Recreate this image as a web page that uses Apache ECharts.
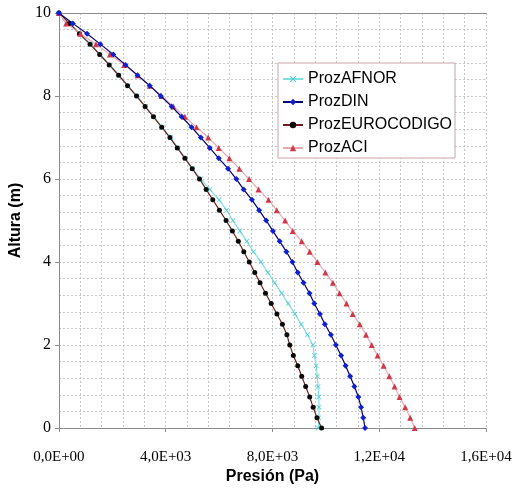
<!DOCTYPE html>
<html>
<head>
<meta charset="utf-8">
<script src="https://cdn.jsdelivr.net/npm/echarts@6/dist/echarts.min.js"></script>
<style>
html,body{margin:0;padding:0;background:#fff;}
#chart{width:521px;height:490px;}
</style>
</head>
<body>
<div id="chart"></div>
<script>
// Heights (m)
var heights = [10, 9.75, 9.5, 9.25, 9, 8.75, 8.5, 8.25, 8, 7.75, 7.5, 7.25, 7, 6.75, 6.5, 6.25, 6, 5.75, 5.5, 5.25, 5, 4.75, 4.5, 4.25, 4, 3.75, 3.5, 3.25, 3, 2.75, 2.5, 2.25, 2, 1.75, 1.5, 1.25, 1, 0.75, 0.5, 0.25, 0];

// Pressures (Pa)
var prozAFNOR = [0, 405, 780, 1180, 1545, 1905, 2255, 2590, 2925, 3245, 3560, 3870, 4180, 4455, 4740, 5010, 5310, 5650, 6000, 6280, 6520, 6780, 7040, 7290, 7570, 7830, 8080, 8340, 8590, 8840, 9080, 9310, 9515, 9570, 9640, 9680, 9710, 9735, 9745, 9740, 9720];
var prozDIN = [0, 522, 1055, 1551, 2036, 2497, 2945, 3404, 3814, 4224, 4597, 4970, 5316, 5652, 5988, 6338, 6647, 6920, 7232, 7500, 7766, 8015, 8269, 8522, 8746, 8947, 9163, 9387, 9566, 9778, 9965, 10189, 10375, 10570, 10740, 10910, 11070, 11220, 11320, 11400, 11470];
var prozEUROCODIGO = [0, 395, 768, 1167, 1528, 1886, 2237, 2572, 2908, 3228, 3542, 3851, 4160, 4436, 4720, 4995, 5268, 5517, 5764, 6013, 6263, 6498, 6722, 6927, 7132, 7337, 7534, 7739, 7952, 8168, 8373, 8541, 8649, 8783, 8947, 9096, 9245, 9395, 9525, 9667, 9842];
var prozACI = [0, 272, 805, 1391, 1912, 2446, 2945, 3404, 3840, 4287, 4720, 5156, 5592, 5987, 6386, 6759, 7124, 7478, 7851, 8160, 8474, 8761, 9096, 9394, 9685, 9983, 10263, 10513, 10774, 11009, 11270, 11505, 11717, 11941, 12164, 12377, 12574, 12761, 12973, 13160, 13331];

var seriesNames = ['ProzAFNOR', 'ProzDIN', 'ProzEUROCODIGO', 'ProzACI'];
var xTicks = [0, 4000, 8000, 12000, 16000];
var yTicks = [0, 2, 4, 6, 8, 10];

function pairs(xs) {
  return xs.map(function (v, i) { return [v, heights[i]]; });
}
function sci(v) {
  if (v === 0) return '0,0E+00';
  var e = Math.floor(Math.log10(Math.abs(v)) + 1e-9);
  var m = (v / Math.pow(10, e)).toFixed(1).replace('.', ',');
  return m + 'E+' + (e < 10 ? '0' + e : e);
}

var xSymbol = 'path://M0,1 L1,0 L5,4 L9,0 L10,1 L6,5 L10,9 L9,10 L5,6 L1,10 L0,9 L4,5 Z';

var chart = echarts.init(document.getElementById('chart'), null, {renderer: 'canvas'});
var gridStyle = {color: '#c4c4c4', width: 1, type: [2, 2]};
chart.setOption({
  animation: false,
  backgroundColor: '#ffffff',
  grid: {left: 58, right: 35, top: 13, bottom: 56, containLabel: false},
  legend: {
    orient: 'vertical',
    left: 278,
    top: 63,
    padding: [8, 3, 2, 4],
    itemGap: 7,
    itemWidth: 20,
    itemHeight: 8,
    backgroundColor: '#ffffff',
    borderColor: '#c8a4aa',
    borderWidth: 1,
    borderRadius: 0,
    textStyle: {fontFamily: 'Liberation Sans, Arial, sans-serif', fontSize: 16, color: '#000'},
    data: seriesNames
  },
  xAxis: [{
    type: 'value', min: 0, max: 16000, interval: 4000,
    name: 'Presión (Pa)', nameLocation: 'middle', nameGap: 37,
    nameTextStyle: {fontFamily: 'Liberation Sans, Arial, sans-serif', fontSize: 16, fontWeight: 'bold', color: '#000'},
    axisLine: {show: true, onZero: false, lineStyle: {color: '#8c8c8c', width: 1}},
    axisTick: {show: true, length: 4, lineStyle: {color: '#8c8c8c'}},
    axisLabel: {
      margin: 21,
      fontFamily: 'Liberation Serif, Times New Roman, serif', fontSize: 15, color: '#000',
      formatter: function (v) { return xTicks.indexOf(v) >= 0 ? sci(v) : ''; }
    },
    splitLine: {show: true, lineStyle: gridStyle},
    minorTick: {show: false, splitNumber: 5},
    minorSplitLine: {show: true, lineStyle: gridStyle}
  }, {
    type: 'value', min: 0, max: 16000, position: 'top',
    axisLine: {show: true, onZero: false, lineStyle: {color: '#8c8c8c', width: 1}},
    axisTick: {show: false}, axisLabel: {show: false}, splitLine: {show: false}
  }],
  yAxis: {
    type: 'value', min: 0, max: 10, interval: 2,
    name: 'Altura (m)', nameLocation: 'middle', nameGap: 27, nameRotate: 90,
    nameTextStyle: {fontFamily: 'Liberation Sans, Arial, sans-serif', fontSize: 16, fontWeight: 'bold', color: '#000'},
    axisLine: {show: true, onZero: false, lineStyle: {color: '#8c8c8c', width: 1}},
    axisTick: {show: true, length: 4, lineStyle: {color: '#8c8c8c'}},
    axisLabel: {
      margin: 8,
      fontFamily: 'Liberation Serif, Times New Roman, serif', fontSize: 16, color: '#000',
      formatter: function (v) { return yTicks.indexOf(v) >= 0 ? String(v) : ''; }
    },
    splitLine: {show: true, lineStyle: gridStyle},
    minorTick: {show: false, splitNumber: 5},
    minorSplitLine: {show: true, lineStyle: gridStyle}
  },
  series: [
    {
      name: seriesNames[0], type: 'line', data: pairs(prozAFNOR),
      symbol: xSymbol, symbolSize: 5, showAllSymbol: true,
      lineStyle: {color: '#7fe0e0', width: 1.2},
      itemStyle: {color: '#4cc8cc'}, z: 2
    },
    {
      name: seriesNames[1], type: 'line', data: pairs(prozDIN),
      symbol: 'diamond', symbolSize: 6, showAllSymbol: true,
      lineStyle: {color: '#000070', width: 1.2},
      itemStyle: {color: '#1020d0'}, z: 3
    },
    {
      name: seriesNames[2], type: 'line', data: pairs(prozEUROCODIGO),
      symbol: 'circle', symbolSize: 5, showAllSymbol: true,
      lineStyle: {color: '#6a2020', width: 1.2},
      itemStyle: {color: '#0a0a0a'}, z: 2
    },
    {
      name: seriesNames[3], type: 'line', data: pairs(prozACI),
      symbol: 'triangle', symbolSize: 6, showAllSymbol: true,
      lineStyle: {color: '#e8a8b0', width: 1.2},
      itemStyle: {color: '#d03848'}, z: 2
    }
  ]
});
</script>
</body>
</html>
